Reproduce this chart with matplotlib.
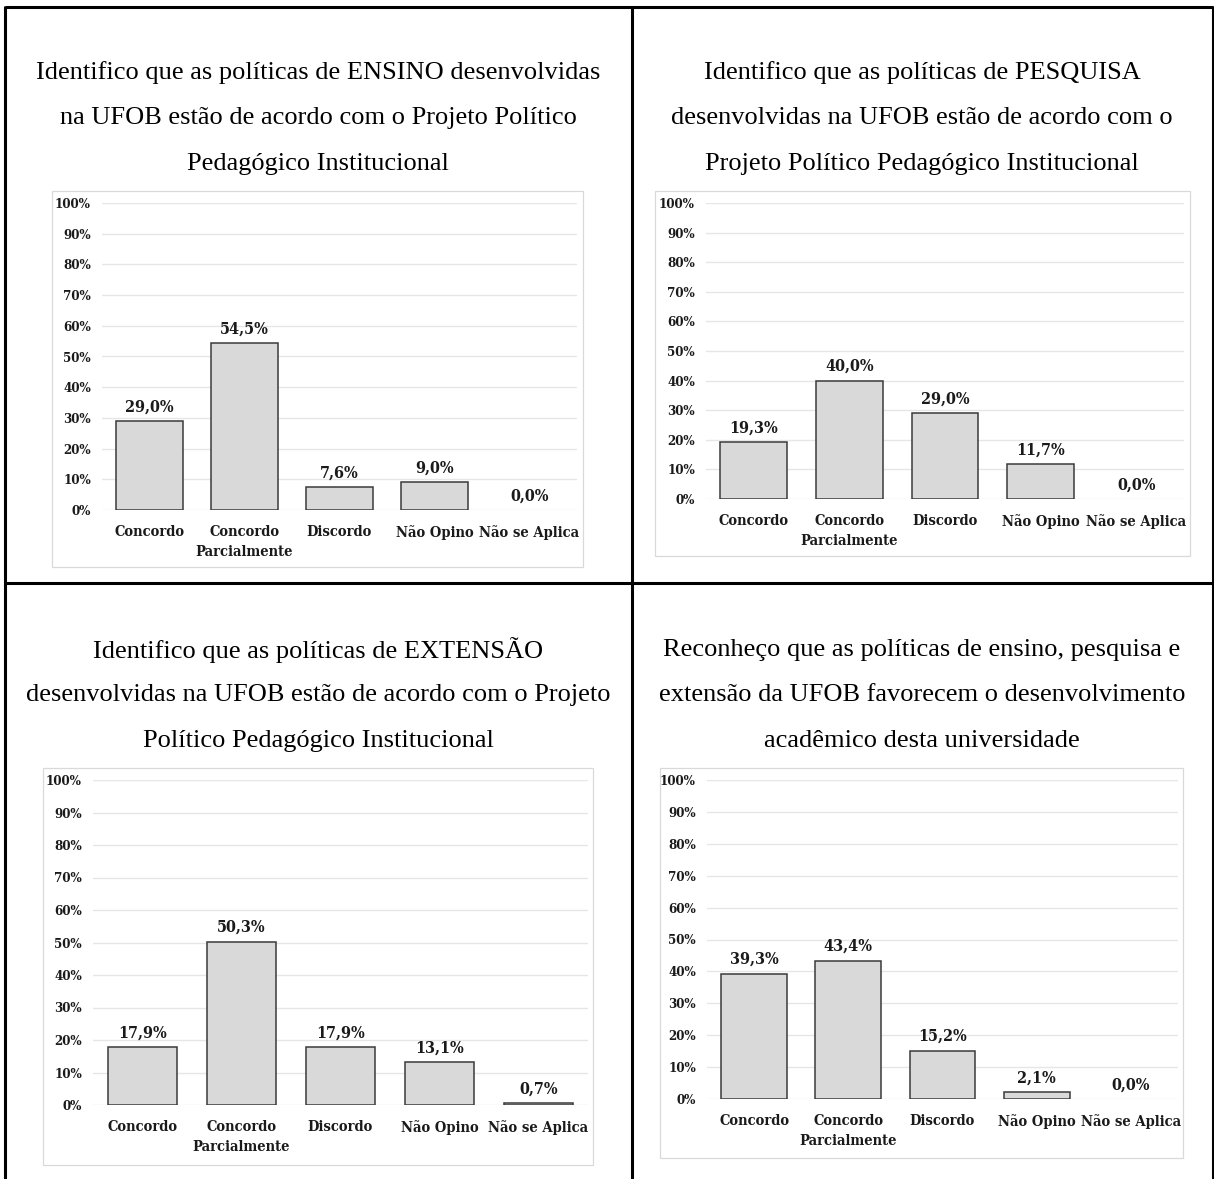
import matplotlib
matplotlib.use("Agg")
import matplotlib.pyplot as plt
from matplotlib.lines import Line2D
from matplotlib.patches import Rectangle
from matplotlib.ticker import FuncFormatter
from matplotlib import font_manager as fm

# ---------------- data ----------------
categories = ["Concordo", "Concordo\nParcialmente", "Discordo", "Não Opino", "Não se Aplica"]

titles = [
    ["Identifico que as políticas de ENSINO desenvolvidas",
     "na UFOB estão de acordo com o Projeto Político",
     "Pedagógico Institucional"],
    ["Identifico que as políticas de PESQUISA",
     "desenvolvidas na UFOB estão de acordo com o",
     "Projeto Político Pedagógico Institucional"],
    ["Identifico que as políticas de EXTENSÃO",
     "desenvolvidas na UFOB estão de acordo com o Projeto",
     "Político Pedagógico Institucional"],
    ["Reconheço que as políticas de ensino, pesquisa e",
     "extensão da UFOB favorecem o desenvolvimento",
     "acadêmico desta universidade"],
]

ensino = [29.0, 54.5, 7.6, 9.0, 0.0]
pesquisa = [19.3, 40.0, 29.0, 11.7, 0.0]
extensao = [17.9, 50.3, 17.9, 13.1, 0.7]
reconheco = [39.3, 43.4, 15.2, 2.1, 0.0]

y_ticks = [0, 10, 20, 30, 40, 50, 60, 70, 80, 90, 100]

series = [ensino, pesquisa, extensao, reconheco]

# ---------------- layout (pixels) ----------------
W, H = 1214, 1179
fig = plt.figure(figsize=(W / 100, H / 100), dpi=100)

def fx(x):
    return x / W

def fy(y):
    return 1 - y / H

# chart font
cf = fm.FontProperties(family="DejaVu Serif", weight="bold", stretch="condensed")
try:
    path = fm.findfont(cf, fallback_to_default=False)
    if "Condensed" not in path:
        raise ValueError
    chart_font = fm.FontProperties(fname=path)
except Exception:
    chart_font = fm.FontProperties(family="Liberation Serif", weight="bold")

title_family = "Liberation Serif"

# table lines
lw_tab = 2.2
lines = [
    ((5, 5), (6, 1179)),        # left
    ((1213, 1213), (6, 1179)),  # right
    ((5, 1213), (7, 7)),        # top
    ((5, 1213), (583, 583)),    # middle horizontal
    ((632, 632), (6, 1179)),    # middle vertical
]
for xs, ys in lines:
    fig.add_artist(Line2D([fx(xs[0]), fx(xs[1])], [fy(ys[0]), fy(ys[1])],
                          color="black", lw=lw_tab, solid_capstyle="butt"))

# panel geometry: (title_center_x, title_line_ys, box(l,t,r,b), plot(l,t,r,b))
panels = [
    (318, (73, 118, 164), (52, 191, 583, 567), (102, 203, 577, 510)),
    (922, (73, 118, 164), (655, 191, 1190, 556), (706, 203, 1184, 499)),
    (318, (650, 695, 741), (43, 768, 593, 1165), (93, 780, 588, 1105)),
    (922, (650, 695, 741), (660, 768, 1183, 1158), (707, 780, 1178, 1099)),
]

for (tcx, tys, box, plot), title, vals in zip(panels, titles, series):
    for line, ty in zip(title, tys):
        fig.text(fx(tcx), fy(ty), line, ha="center", va="center",
                 family=title_family, fontsize=19)
    # chart box
    bl, bt, br, bb = box
    fig.add_artist(Rectangle((fx(bl), fy(bb)), fx(br - bl), (bb - bt) / H,
                             transform=fig.transFigure, fill=False,
                             edgecolor="#d9d9d9", lw=0.9))
    pl, pt, pr, pb = plot
    ax = fig.add_axes([fx(pl), fy(pb), fx(pr - pl), (pb - pt) / H])
    x = list(range(len(categories)))
    lws = [1.1 if v > 0 else 0 for v in vals]
    ax.bar(x, vals, width=0.7, color="#d9d9d9", edgecolor="#3a3a3a",
           linewidth=lws, zorder=3)
    ax.set_xlim(-0.5, len(categories) - 0.5)
    ax.set_ylim(0, 100)
    ax.set_yticks(y_ticks)
    ax.yaxis.set_major_formatter(FuncFormatter(lambda v, p: f"{int(round(v))}%"))
    ax.grid(axis="y", color="#e6e6e6", lw=1.0, zorder=0)
    ax.set_axisbelow(True)
    for s in ax.spines.values():
        s.set_visible(False)
    ax.tick_params(axis="both", length=0)
    ax.tick_params(axis="y", pad=8)
    ax.tick_params(axis="x", pad=11)
    ax.set_xticks(x)
    ax.set_xticklabels(categories, linespacing=1.5)
    for lab in ax.get_xticklabels():
        lab.set_fontproperties(chart_font)
        lab.set_fontsize(10.5)
        lab.set_color("#1a1a1a")
    for lab in ax.get_yticklabels():
        lab.set_fontproperties(chart_font)
        lab.set_fontsize(9.5)
        lab.set_color("#1a1a1a")
    for xi, v in zip(x, vals):
        ax.annotate(f"{v:.1f}%".replace(".", ","), (xi, v), xytext=(0, 4),
                    textcoords="offset points", ha="center", va="bottom",
                    fontproperties=chart_font, fontsize=11.5, color="#1a1a1a")

fig.savefig("out.png", dpi=100, facecolor="white")
